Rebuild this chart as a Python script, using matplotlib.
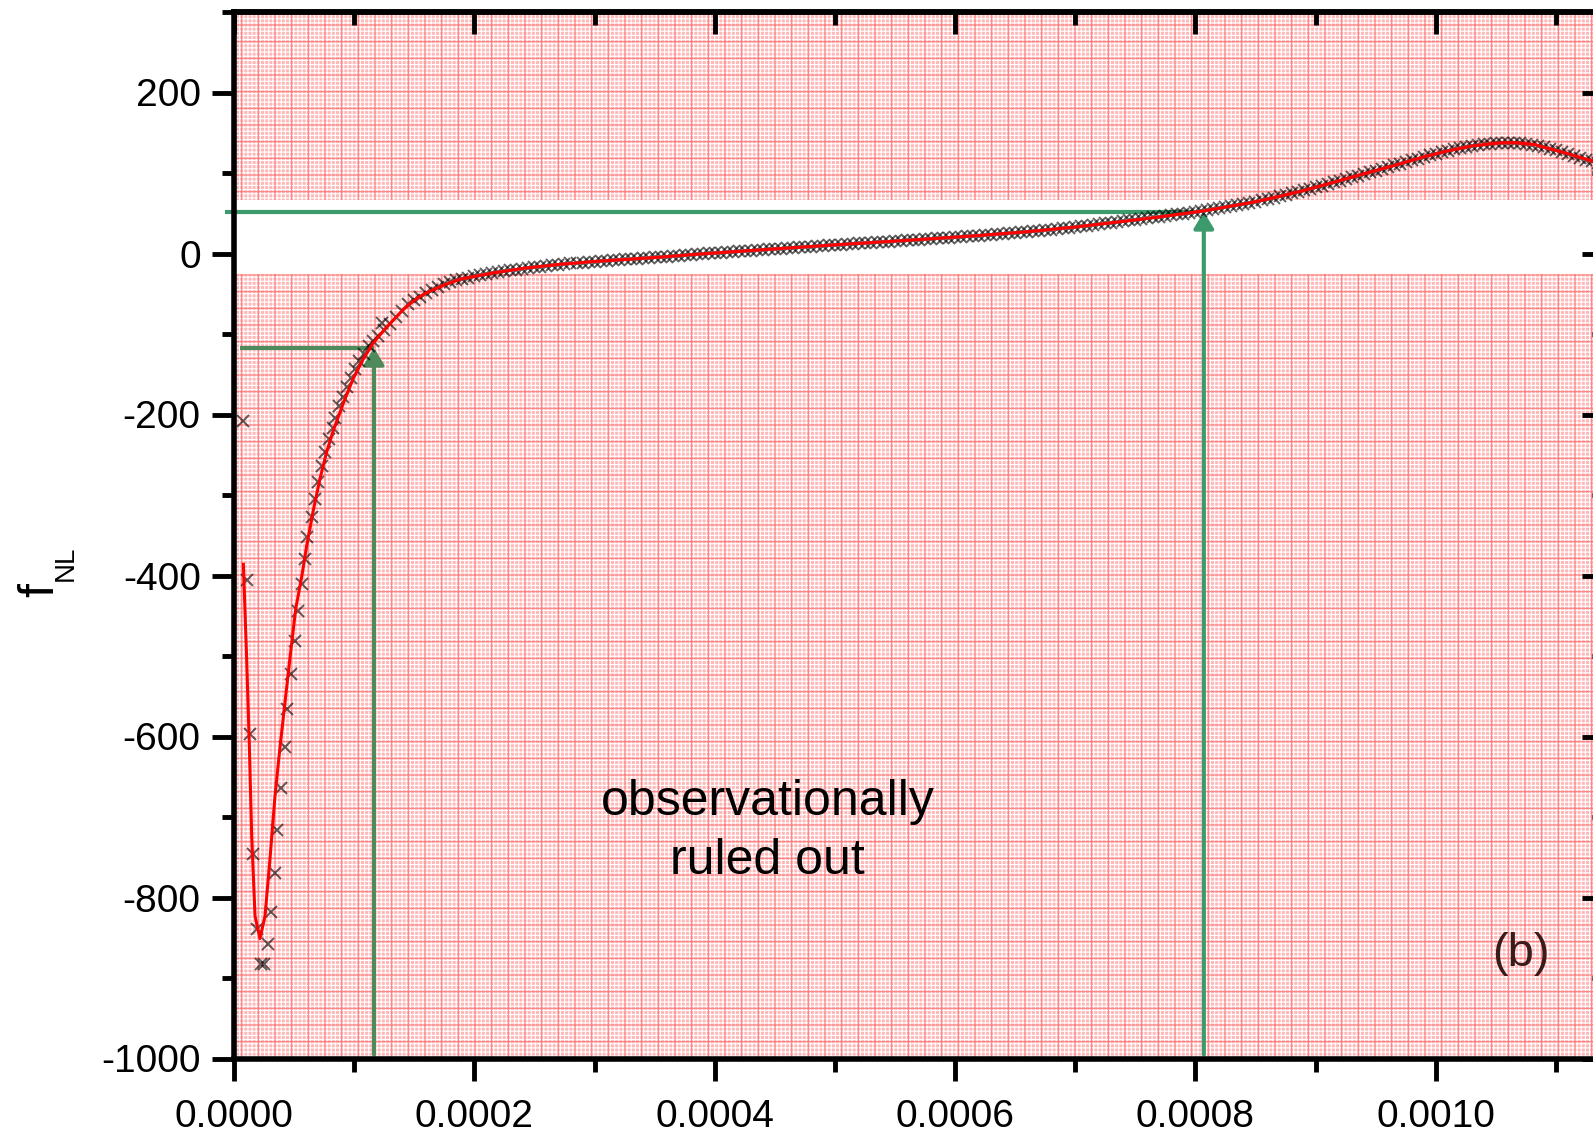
import numpy as np
import matplotlib
matplotlib.use("Agg")
import matplotlib.pyplot as plt
from matplotlib.ticker import MultipleLocator, FormatStrFormatter

plt.rcParams['font.family'] = ['Liberation Sans', 'DejaVu Sans']
plt.rcParams['axes.unicode_minus'] = False
plt.rcParams['hatch.linewidth'] = 0.8

# ---------------------------------------------------------------------------
# Data (x in units of 1e-6)
# ---------------------------------------------------------------------------
# sparse samples on the steep branch
sparse_x = [7.8, 11.1, 13.3, 16.1, 18.8, 22.4, 25.2, 28.0, 30.5, 34.1, 36.0,
            39.1, 42.4, 44.4, 47.1, 50.4, 53.5, 56.3, 59.0, 61.0, 64.9, 67.4,
            70.2, 72.9, 76.0, 79.3, 82.1, 84.0, 87.6, 90.4, 93.7, 97.1, 100.7,
            104.3, 108.2, 112.6, 116.0, 122.9]
sparse_y = [-208, -406, -597, -746, -839, -882, -883, -858, -818, -769, -716,
            -664, -613, -566, -522, -481, -444, -410, -380, -352, -327, -305,
            -284, -264, -247, -231, -217, -204, -190, -178, -166, -155, -144,
            -134, -125, -115, -109, -86]

# dense samples
dense_x = [120, 125, 130, 135, 140, 145, 150, 155, 160, 165, 170, 175, 180,
           185, 190, 195, 200, 205, 210, 215, 220, 225, 230, 235, 240, 245,
           250, 255, 260, 265, 270, 275, 280, 285, 290, 295, 300, 305, 310,
           315, 320, 325, 330, 335, 340, 345, 350, 355, 360, 365, 370, 375,
           380, 385, 390, 395, 400, 405, 410, 415, 420, 425, 430, 435, 440,
           445, 450, 455, 460, 465, 470, 475, 480, 485, 490, 495, 500, 505,
           510, 515, 520, 525, 530, 535, 540, 545, 550, 555, 560, 565, 570,
           575, 580, 585, 590, 595, 600, 605, 610, 615, 620, 625, 630, 635,
           640, 645, 650, 655, 660, 665, 670, 675, 680, 685, 690, 695, 700,
           705, 710, 715, 720, 725, 730, 735, 740, 745, 750, 755, 760, 765,
           770, 775, 780, 785, 790, 795, 800, 805, 810, 815, 820, 825, 830,
           835, 840, 845, 850, 855, 860, 865, 870, 875, 880, 885, 890, 895,
           900, 905, 910, 915, 920, 925, 930, 935, 940, 945, 950, 955, 960,
           965, 970, 975, 980, 985, 990, 995, 1000, 1005, 1010, 1015, 1020,
           1025, 1030, 1035, 1040, 1045, 1050, 1055, 1060, 1065, 1070, 1075,
           1080, 1085, 1090, 1095, 1100, 1105, 1110, 1115, 1120, 1125, 1130,
           1135, 1140]
dense_y = [-103, -95, -87, -79, -71, -63, -58, -53.5, -49, -45, -41.5, -38.5,
           -36, -33.5, -31.5, -30, -28.5, -27, -25.5, -24.2, -23, -22, -21,
           -20, -19, -18, -17.1, -16.2, -15.4, -14.6, -13.8, -13, -12.4,
           -11.8, -11.2, -10.6, -10, -9.4, -8.8, -8.3, -7.8, -7.3, -6.8, -6.3,
           -5.8, -5.3, -4.8, -4.3, -3.8, -3.2, -2.6, -2.1, -1.5, -1, -0.4, 0.1,
           0.6, 1.1, 1.6, 2.1, 2.6, 3.1, 3.6, 4.1, 4.6, 5.1, 5.6, 6.1, 6.6,
           7.1, 7.5, 8, 8.5, 9, 9.5, 10, 10.5, 11, 11.5, 12, 12.5, 13, 13.4,
           13.9, 14.4, 14.9, 15.4, 15.9, 16.3, 16.8, 17.3, 17.8, 18.3, 18.8,
           19.3, 19.8, 20.3, 20.8, 21.3, 21.8, 22.3, 22.8, 23.4, 24, 24.6,
           25.2, 25.8, 26.4, 27, 27.7, 28.4, 29.1, 29.8, 30.5, 31.3, 32.1,
           32.9, 33.8, 34.7, 35.6, 36.5, 37.4, 38.3, 39.2, 40.1, 41, 42, 42.9,
           43.8, 44.8, 45.7, 46.7, 47.6, 48.6, 49.6, 50.6, 51.6, 52.6, 53.7,
           54.8, 56, 57.3, 58.6, 60, 61.4, 62.9, 64.4, 66, 67.6, 69.3, 71,
           72.8, 74.6, 76.5, 78.4, 80.3, 82.3, 84.3, 86.3, 88.4, 90.5, 92.6,
           94.7, 96.8, 98.9, 101, 103.1, 105.2, 107.3, 109.4, 111.5, 113.6,
           115.7, 117.9, 120, 122, 124, 125.8, 127.5, 129.2, 130.8, 132.3,
           133.6, 134.8, 135.8, 136.6, 137.2, 137.6, 137.8, 137.7, 137.2,
           136.4, 135.2, 133.7, 132, 130, 128, 125.8, 123.5, 121.2, 118.9,
           116.6, 114.3, 112, 109.7]

# fitted curve
fit_x = [7.8, 10.5, 12.8, 14.7, 17.5, 21.6, 25.8, 30.0, 34.1, 38.3, 42.4,
         46.6, 51.4, 56.3, 60.5, 66.0, 71.5, 77.0, 82.6, 91.0, 99.0, 107.6,
         115.9, 125, 133, 140, 146, 153, 160, 175, 188, 200, 216, 243, 271,
         299, 327, 354, 380, 400, 449, 504, 560, 615, 660, 700, 736, 770,
         808, 852, 887, 909, 940, 967, 990, 1010, 1030, 1053, 1065, 1082,
         1100, 1111, 1131, 1140]
fit_y = [-386, -502, -613, -723, -823, -851, -823, -751, -674, -613, -558,
         -502, -441, -402, -363, -319, -280, -247, -220, -186, -156, -131,
         -111, -95, -82, -71, -63, -55, -49, -39, -32, -28.5, -24, -18,
         -13.5, -10, -7.3, -4.6, -1.5, 0.6, 5.6, 11.1, 16.3, 21.8, 27, 32.9,
         39.2, 45.4, 53.2, 64.8, 77, 86, 98.9, 110, 120, 127.5, 133.6, 137.4,
         137.7, 135.4, 128, 123.5, 114.5, 109.7]

# observationally allowed window of f_NL
allowed_low, allowed_high = -26, 66

# read-off guides: (x, f_NL)
guide_low = (116.5, -118)
guide_high = (807, 51)

xmax = 1.14e-3
ymin, ymax = -1000, 300
um = 1e-6

# ---------------------------------------------------------------------------
fig = plt.figure(figsize=(15.93, 11.34), dpi=100)
ax = fig.add_axes([234 / 1593, 75.5 / 1134, 1370 / 1593, 1046.5 / 1134])
ax.set_xlim(0, xmax)
ax.set_ylim(ymin, ymax)

# excluded regions drawn as pink graph paper
for lo, hi in [(ymin, allowed_low), (allowed_high, ymax)]:
    ax.fill_between([0, xmax], lo, hi, facecolor='#ffb8b8', edgecolor='white',
                    hatch='++++', linewidth=0, zorder=0.5)
    ax.fill_between([0, xmax], lo, hi, facecolor='none', edgecolor='#ff8080',
                    hatch='+', linewidth=0, zorder=0.6)

# samples and fit
mx = np.array(sparse_x + dense_x) * um
my = np.array(sparse_y + dense_y)
ax.plot(mx, my, ls='none', marker='x', ms=8.5, mew=1.4, color='black',
        alpha=0.62, zorder=3)
ax.plot(np.array(fit_x) * um, fit_y, color='red', lw=2.2, zorder=4)

# green guides
c_low, c_high = '#4f8a5c', '#3c9a6c'
ax.plot([5 * um, guide_low[0] * um], [guide_low[1]] * 2, color=c_low, lw=3,
        zorder=2, solid_capstyle='butt')
ax.annotate('', xy=(guide_low[0] * um, guide_low[1] + 1),
            xytext=(guide_low[0] * um, ymin + 5),
            arrowprops=dict(arrowstyle='-|>,head_length=0.5,head_width=0.3',
                            color=c_low, lw=3, mutation_scale=20,
                            shrinkA=0, shrinkB=0), zorder=2)
ax.plot([-7.5 * um, 798 * um], [guide_high[1]] * 2, color=c_high, lw=3,
        zorder=2, clip_on=False, solid_capstyle='butt')
ax.annotate('', xy=(guide_high[0] * um, guide_high[1] + 1),
            xytext=(guide_high[0] * um, ymin + 5),
            arrowprops=dict(arrowstyle='-|>,head_length=0.5,head_width=0.3',
                            color=c_high, lw=3, mutation_scale=20,
                            shrinkA=0, shrinkB=0), zorder=2)

# annotations
ax.text(0.000444, -718, 'observationally\nruled out', ha='center',
        va='center', fontsize=36, linespacing=1.38, zorder=5)
ax.text(0.001071, -870, '(b)', ha='center', va='center', fontsize=34,
        color='#3a1a1a', zorder=5)

# axis label f_NL
fig.text(53 / 1593, 1 - 597 / 1134, 'f', rotation=90, rotation_mode='anchor',
         ha='left', va='baseline', fontsize=36)
fig.text(73 / 1593, 1 - 581 / 1134, 'NL', rotation=90, rotation_mode='anchor',
         ha='left', va='baseline', fontsize=20)

# ticks
ax.xaxis.set_major_locator(MultipleLocator(0.0002))
ax.xaxis.set_minor_locator(MultipleLocator(0.0001))
ax.xaxis.set_major_formatter(FormatStrFormatter('%.4f'))
ax.yaxis.set_major_locator(MultipleLocator(200))
ax.yaxis.set_minor_locator(MultipleLocator(100))
ax.tick_params(which='both', direction='out', width=3.5, labelsize=28,
               top=False, right=False)
ax.tick_params(which='major', length=16)
ax.tick_params(which='minor', length=9)
ax.tick_params(axis='x', pad=13)
ax.tick_params(axis='y', pad=8)
for s in ax.spines.values():
    s.set_linewidth(4)

top = ax.secondary_xaxis('top')
top.set_zorder(6)
top.xaxis.set_major_locator(MultipleLocator(0.0002))
top.xaxis.set_minor_locator(MultipleLocator(0.0001))
top.tick_params(which='both', direction='in', width=3.5, labeltop=False)
top.tick_params(which='major', length=16)
top.tick_params(which='minor', length=9)
top.spines['top'].set_linewidth(4)

right = ax.secondary_yaxis('right')
right.set_zorder(6)
right.yaxis.set_major_locator(MultipleLocator(200))
right.yaxis.set_minor_locator(MultipleLocator(100))
right.tick_params(which='both', direction='in', width=3.5, labelright=False)
right.tick_params(which='major', length=16)
right.tick_params(which='minor', length=9)
right.spines['right'].set_linewidth(4)

fig.savefig('out.png', dpi=100)
